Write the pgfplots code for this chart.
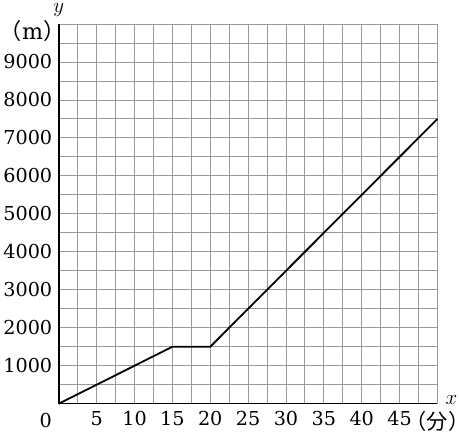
\documentclass[border=0pt]{standalone}
\usepackage{pgfplots}
\pgfplotsset{compat=1.18}
\usepackage{fontspec}
\setmainfont{DejaVu Serif}
\newfontfamily\cjk{Noto Sans CJK JP}
\newfontfamily\cjkh[RawFeature=+halt]{Noto Sans CJK JP}
\begin{document}
\begin{tikzpicture}
\begin{axis}[
  scale only axis, width=375pt, height=376pt,
  xmin=0, xmax=50, ymin=0, ymax=10000,
  axis lines=left, axis line style={-, line width=1.5pt},
  xtick={0,5,...,50}, ytick={0,1000,...,10000},
  minor x tick num=1, minor y tick num=1,
  grid=both, grid style={gray!80, line width=0.9pt},
  major tick length=0pt, minor tick length=0pt,
  xticklabels={,5,10,15,20,25,30,35,40,45,{\cjkh\fontsize{21}{25}\selectfont（分）}},
  yticklabels={,1000,2000,3000,4000,5000,6000,7000,8000,9000,},
  ticklabel style={font=\fontsize{19}{23}\selectfont},
  xticklabel style={yshift=-4pt},
  yticklabel style={xshift=-3pt},
  scaled y ticks=false,
  clip=false,
]
\addplot[black, line width=1.8pt] coordinates {(0,0) (15,1500) (20,1500) (50,7500)};
\node[font=\fontsize{19}{23}\selectfont] at (axis cs:0,0) [xshift=-13pt, yshift=-17pt] {0};
\node[anchor=east, font=\fontsize{22}{26}\selectfont] at (rel axis cs:0,1) [xshift=-3pt, yshift=-7pt] {\hspace*{-9pt}\cjk（\normalfont m\cjk）\hspace*{-13pt}};
\node[font=\fontsize{22}{26}\selectfont] at (rel axis cs:1,0) [xshift=14pt, yshift=4pt] {$x$};
\node[font=\fontsize{22}{26}\selectfont] at (rel axis cs:0,1) [xshift=0pt, yshift=14pt] {$y$};
\end{axis}
\end{tikzpicture}
\end{document}
